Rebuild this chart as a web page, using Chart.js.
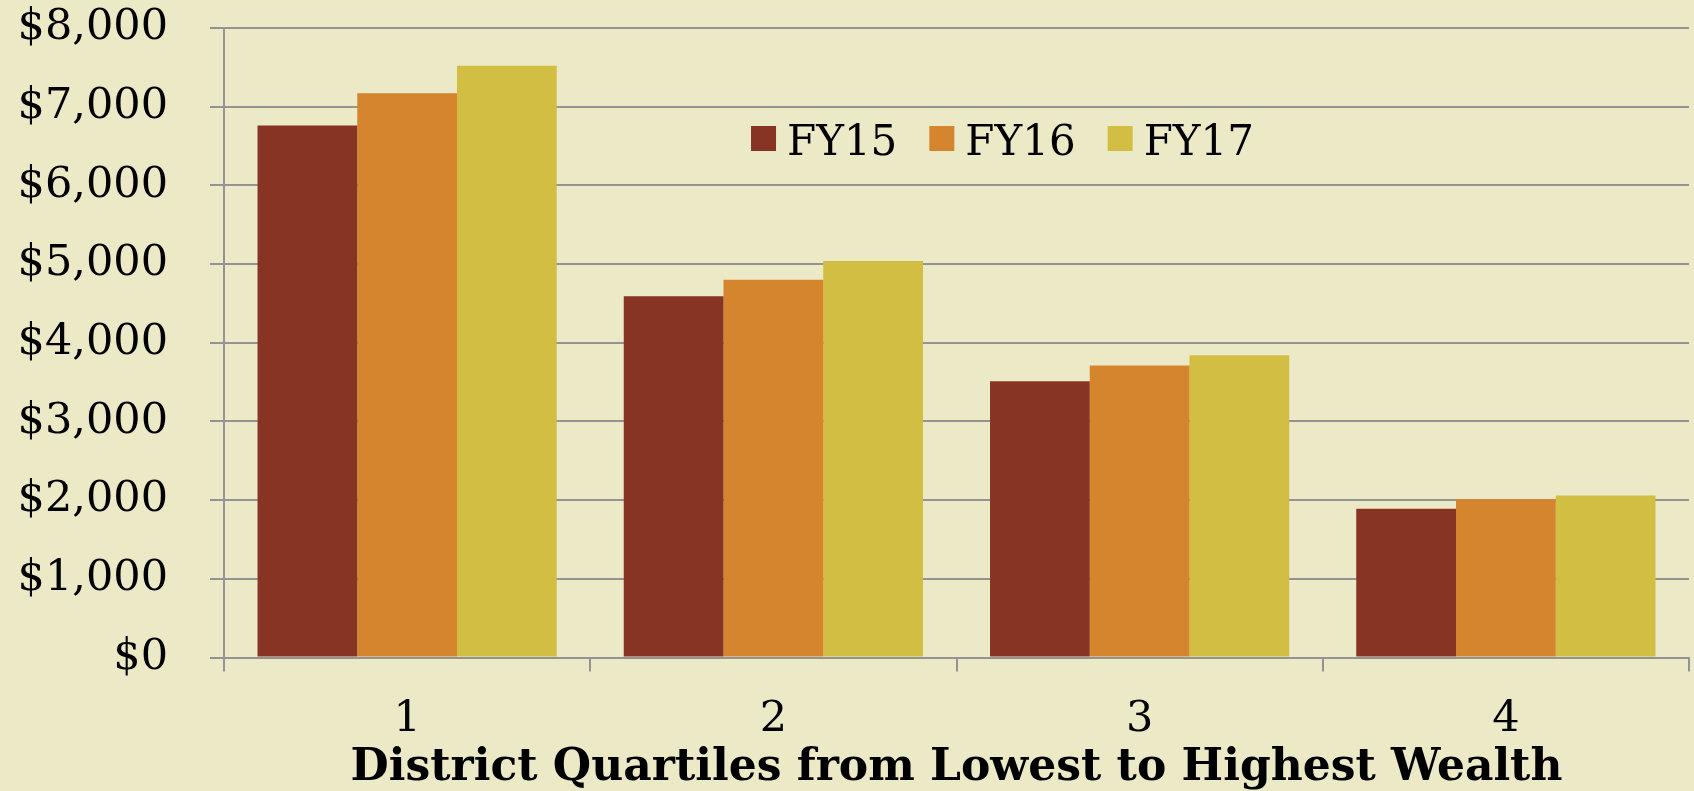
<!DOCTYPE html>
<html>
<head>
<meta charset="utf-8">
<script src="https://cdn.jsdelivr.net/npm/chart.js@4"></script>
<style>
  html, body { margin: 0; padding: 0; background: #ECE9C7; }
  #wrap { width: 1694px; height: 791px; position: relative; }
  canvas { display: block; }
</style>
</head>
<body>
<div id="wrap"><canvas id="c" width="1694" height="791"></canvas></div>
<script>
// ---- data ----
const categories = ['1', '2', '3', '4'];
const seriesNames = ['FY15', 'FY16', 'FY17'];
const fy15 = [6760, 4590, 3510, 1890];
const fy16 = [7170, 4800, 3710, 2010];
const fy17 = [7520, 5040, 3840, 2060];
const yTickValues = [0, 1000, 2000, 3000, 4000, 5000, 6000, 7000, 8000];
const yTickLabels = ['$0', '$1,000', '$2,000', '$3,000', '$4,000', '$5,000', '$6,000', '$7,000', '$8,000'];
const xTitle = 'District Quartiles from Lowest to Highest Wealth';

// ---- style ----
const colors = ['#873424', '#D5852D', '#D1BE42'];
const GRID = '#939393';
const SERIF = '"DejaVu Serif", "Liberation Serif", serif';

const legendPlugin = {
  id: 'insideLegend',
  afterDraw(chart) {
    const ctx = chart.ctx;
    const ca = chart.chartArea;
    ctx.save();
    ctx.font = '42px ' + SERIF;
    ctx.textBaseline = 'alphabetic';
    ctx.textAlign = 'left';
    const box = 25, gapText = 11, gapItem = 32;
    const items = chart.data.datasets.map(d => ({
      label: d.label, color: d.backgroundColor, w: ctx.measureText(d.label).width
    }));
    const total = items.reduce((s, it) => s + box + gapText + it.w, 0) + gapItem * (items.length - 1);
    let x = ca.left + ca.width / 2 + 46 - total / 2;
    const boxTop = ca.top + 98;
    const baseY = ca.top + 127;
    items.forEach(it => {
      ctx.fillStyle = it.color;
      ctx.fillRect(x, boxTop, box, box);
      x += box + gapText;
      ctx.fillStyle = '#000';
      ctx.fillText(it.label, x, baseY);
      x += it.w + gapItem;
    });
    ctx.restore();
  }
};

const seriesValues = [fy15, fy16, fy17];

new Chart(document.getElementById('c'), {
  type: 'bar',
  data: {
    labels: categories,
    datasets: seriesNames.map((name, i) => ({
      label: name,
      data: seriesValues[i],
      backgroundColor: colors[i],
      borderWidth: 0,
      categoryPercentage: 0.817,
      barPercentage: 1.0
    }))
  },
  options: {
    responsive: false,
    animation: false,
    layout: { padding: { top: 28, right: 5, left: 0, bottom: 0 } },
    plugins: {
      legend: { display: false },
      tooltip: { enabled: false }
    },
    scales: {
      x: {
        grid: { display: true, drawOnChartArea: false, drawTicks: true, tickLength: 14, color: GRID, lineWidth: 2, offset: true },
        border: { display: true, color: GRID, width: 2 },
        ticks: { font: { family: SERIF, size: 43, lineHeight: 1 }, color: '#000', padding: 27 },
        title: {
          display: true, text: xTitle, color: '#000',
          font: { family: SERIF, size: 44, weight: 'bold', lineHeight: 1 },
          padding: { top: 0, bottom: 0 }
        },
        afterFit(s) { s.height = 133.5; s.paddingLeft = 0; s.paddingRight = 0; }
      },
      y: {
        min: 0, max: 8000,
        afterBuildTicks(s) { s.ticks = yTickValues.map(v => ({ value: v })); },
        ticks: {
          callback: (v) => yTickLabels[yTickValues.indexOf(v)],
          font: { family: SERIF, size: 43, lineHeight: 1 }, color: '#000', padding: 42
        },
        grid: { color: GRID, lineWidth: 2, tickLength: 14 },
        border: { display: true, color: GRID, width: 2 },
        afterFit(s) { s.width = 224; s.paddingTop = 0; s.paddingBottom = 0; }
      }
    }
  },
  plugins: [legendPlugin]
});
</script>
</body>
</html>
